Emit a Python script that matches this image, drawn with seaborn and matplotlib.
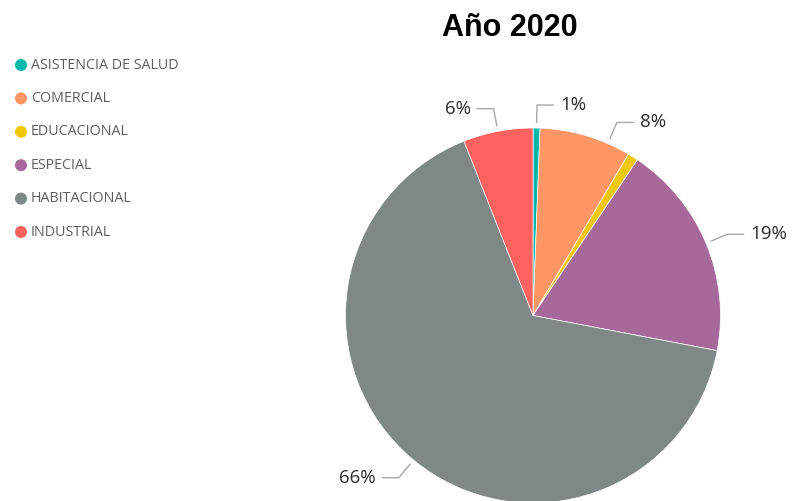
import numpy as np
import pandas as pd
import matplotlib
matplotlib.use("Agg")
import matplotlib.pyplot as plt
import seaborn as sns

# Share of permits by use category, year 2020 (percent)
categories = ["ASISTENCIA DE SALUD", "COMERCIAL", "EDUCACIONAL",
              "ESPECIAL", "HABITACIONAL", "INDUSTRIAL"]
shares = [0.6, 7.9, 0.9, 18.6, 66.0, 6.0]
colors = ["#01B8AA", "#FE9666", "#F2C80F", "#A66999", "#7F8787", "#FD625E"]
title = "Año 2020"

# Slices that carry a data label, and leader-angle tweaks (degrees, clockwise from top)
labeled = ["ASISTENCIA DE SALUD", "COMERCIAL", "ESPECIAL", "HABITACIONAL", "INDUSTRIAL"]
leader_angle = {"COMERCIAL": 23.5}

sns.set_theme(style="white")
plt.rcParams["font.family"] = ["Open Sans", "DejaVu Sans"]
palette = sns.color_palette(colors)

W, H = 796, 501
fig = plt.figure(figsize=(W / 100, H / 100), dpi=100)
ax = fig.add_axes([0, 0, 1, 1])

# Pie geometry in pixel units (y up)
cx, cy, R = 533.0, H - 315.5, 187.5

df = pd.DataFrame({"cat": categories, "share": shares})
ax.pie(df["share"], colors=palette, startangle=90, counterclock=False,
       center=(cx, cy), radius=R,
       wedgeprops=dict(edgecolor="white", linewidth=0.5))

# Data labels with elbow leader lines
total = df["share"].sum()
cum = df["share"].cumsum() - df["share"] / 2
for cat, share, mid in zip(df["cat"], df["share"], cum):
    if cat not in labeled:
        continue
    phi = leader_angle.get(cat, mid / total * 360.0)
    a = np.deg2rad(phi)
    dx, dy = np.sin(a), np.cos(a)
    p0 = (cx + (R + 5) * dx, cy + (R + 5) * dy)
    p1 = (cx + (R + 23) * dx, cy + (R + 23) * dy)
    side = 1 if dx >= 0 else -1
    p2 = (p1[0] + side * 17, p1[1])
    ax.plot([p0[0], p1[0], p2[0]], [p0[1], p1[1], p2[1]],
            color="#A8A8A8", lw=1.0, solid_capstyle="butt")
    pct = int(np.floor(share + 0.5))
    ax.text(p2[0] + side * 6, p2[1], f"{pct}%", ha="left" if side > 0 else "right",
            va="center", fontsize=13.5, color="#2B2B2B")

# Legend: colored dots and category names
legend_df = pd.DataFrame({"x": [21.0] * len(categories),
                          "y": [H - (65 + i * 33.4) for i in range(len(categories))],
                          "cat": categories})
sns.scatterplot(data=legend_df, x="x", y="y", hue="cat", palette=palette,
                s=75, linewidth=0, legend=False, ax=ax)
for _, row in legend_df.iterrows():
    ax.text(31, row["y"], row["cat"], ha="left", va="center",
            fontsize=10.3, color="#605E5C")

ax.text(510, H - 28, title, ha="center", va="center", fontsize=22,
        fontweight="bold", color="black", family=["Liberation Sans", "DejaVu Sans"])

ax.set_xlim(0, W)
ax.set_ylim(0, H)
ax.set_aspect("auto")
ax.set_axis_off()
ax.set_xlabel("")
ax.set_ylabel("")

fig.savefig("out.png", dpi=100, facecolor="white")
